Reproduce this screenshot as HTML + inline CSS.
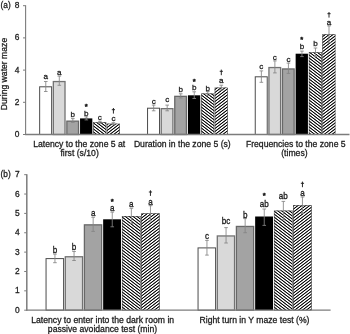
<!DOCTYPE html>
<html><head><meta charset="utf-8"><title>Figure</title>
<style>
html,body{margin:0;padding:0;background:#fff;}
body{width:350px;height:334px;overflow:hidden;font-family:"Liberation Sans",sans-serif;}
svg{display:block;will-change:transform;}
</style></head><body>
<svg width="350" height="334" viewBox="0 0 350 334" font-family="'Liberation Sans', sans-serif" fill="#1c1c1c"><style>text{stroke:#1c1c1c;stroke-width:0.28px;}</style>
<defs><linearGradient id="hA" gradientUnits="userSpaceOnUse" x1="0" y1="0" x2="-1.4502" y2="1.8834" spreadMethod="repeat"><stop offset="0.0000" stop-color="#000000"/><stop offset="0.0625" stop-color="#0b0b0b"/><stop offset="0.1250" stop-color="#2d2d2d"/><stop offset="0.1875" stop-color="#616161"/><stop offset="0.2500" stop-color="#9e9e9e"/><stop offset="0.3125" stop-color="#dbdbdb"/><stop offset="0.3750" stop-color="#ffffff"/><stop offset="0.4375" stop-color="#ffffff"/><stop offset="0.5000" stop-color="#ffffff"/><stop offset="0.5625" stop-color="#ffffff"/><stop offset="0.6250" stop-color="#ffffff"/><stop offset="0.6875" stop-color="#dbdbdb"/><stop offset="0.7500" stop-color="#9e9e9e"/><stop offset="0.8125" stop-color="#616161"/><stop offset="0.8750" stop-color="#2d2d2d"/><stop offset="0.9375" stop-color="#0b0b0b"/><stop offset="1.0000" stop-color="#000000"/></linearGradient><linearGradient id="hB" gradientUnits="userSpaceOnUse" x1="0" y1="0" x2="1.4502" y2="1.8834" spreadMethod="repeat"><stop offset="0.0000" stop-color="#000000"/><stop offset="0.0625" stop-color="#0b0b0b"/><stop offset="0.1250" stop-color="#2d2d2d"/><stop offset="0.1875" stop-color="#616161"/><stop offset="0.2500" stop-color="#9e9e9e"/><stop offset="0.3125" stop-color="#dbdbdb"/><stop offset="0.3750" stop-color="#ffffff"/><stop offset="0.4375" stop-color="#ffffff"/><stop offset="0.5000" stop-color="#ffffff"/><stop offset="0.5625" stop-color="#ffffff"/><stop offset="0.6250" stop-color="#ffffff"/><stop offset="0.6875" stop-color="#dbdbdb"/><stop offset="0.7500" stop-color="#9e9e9e"/><stop offset="0.8125" stop-color="#616161"/><stop offset="0.8750" stop-color="#2d2d2d"/><stop offset="0.9375" stop-color="#0b0b0b"/><stop offset="1.0000" stop-color="#000000"/></linearGradient></defs>
<rect width="350" height="334" fill="#fff"/>
<text x="0.5" y="7.9" font-size="8.3">(a)</text>
<path d="M23.00 134.50H25.60" stroke="#7c7c7c" stroke-width="1"/>
<text x="19.3" y="136.95" font-size="8.4" text-anchor="end">0</text>
<path d="M23.00 102.30H25.60" stroke="#7c7c7c" stroke-width="1"/>
<text x="19.3" y="104.75" font-size="8.4" text-anchor="end">2</text>
<path d="M23.00 70.10H25.60" stroke="#7c7c7c" stroke-width="1"/>
<text x="19.3" y="72.55" font-size="8.4" text-anchor="end">4</text>
<path d="M23.00 37.90H25.60" stroke="#7c7c7c" stroke-width="1"/>
<text x="19.3" y="40.35" font-size="8.4" text-anchor="end">6</text>
<path d="M23.00 5.70H25.60" stroke="#7c7c7c" stroke-width="1"/>
<text x="19.3" y="8.15" font-size="8.4" text-anchor="end">8</text>
<text transform="translate(7.25,74) rotate(-90)" font-size="8.65" text-anchor="middle">During water maze</text>
<rect x="39.65" y="86.80" width="11.98" height="47.70" fill="#ffffff" stroke="#4c4c4c" stroke-width="1.0"/>
<path d="M45.77 81.50V91.50M43.97 81.50h3.6M43.97 91.50h3.6" stroke="#848484" stroke-width="0.85" fill="none"/>
<text transform="translate(45.77,79.15) scale(1,1.0)" font-size="8.1" text-anchor="middle">a</text>
<rect x="53.33" y="81.55" width="11.68" height="52.95" fill="#d9d9d9" stroke="#727272" stroke-width="1.3"/>
<path d="M59.30 76.10V85.30M57.50 76.10h3.6M57.50 85.30h3.6" stroke="#848484" stroke-width="0.85" fill="none"/>
<text transform="translate(59.30,74.75) scale(1,1.0)" font-size="8.1" text-anchor="middle">a</text>
<rect x="66.86" y="121.15" width="11.68" height="13.35" fill="#a3a3a3" stroke="#686868" stroke-width="1.3"/>
<path d="M72.83 118.60V122.40M71.03 118.60h3.6M71.03 122.40h3.6" stroke="#848484" stroke-width="0.85" fill="none"/>
<text transform="translate(72.83,117.05) scale(1,1.0)" font-size="8.1" text-anchor="middle">b</text>
<rect x="80.04" y="118.40" width="12.28" height="16.10" fill="#000"/>
<path d="M86.36 116.90V119.90M84.56 116.90h3.6M84.56 119.90h3.6" stroke="#848484" stroke-width="0.85" fill="none"/>
<text transform="translate(86.36,115.75) scale(1,1.0)" font-size="8.1" text-anchor="middle">b</text>
<text x="86.26" y="109.10" font-size="7.6" style="stroke-width:0.55px" text-anchor="middle">*</text>
<rect x="93.27" y="122.30" width="12.98" height="12.20" fill="url(#hA)"/>
<rect x="93.57" y="122.60" width="12.38" height="11.90" fill="none" stroke="#4a4a4a" stroke-width="0.6"/>
<path d="M99.89 121.30V123.30M98.09 121.30h3.6M98.09 123.30h3.6" stroke="#848484" stroke-width="0.85" fill="none"/>
<text transform="translate(99.89,119.65) scale(1,1.0)" font-size="8.1" text-anchor="middle">c</text>
<rect x="106.80" y="123.70" width="12.98" height="10.80" fill="url(#hB)"/>
<rect x="107.10" y="124.00" width="12.38" height="10.50" fill="none" stroke="#4a4a4a" stroke-width="0.6"/>
<path d="M113.41 122.70V124.70M111.61 122.70h3.6M111.61 124.70h3.6" stroke="#848484" stroke-width="0.85" fill="none"/>
<text transform="translate(113.41,121.45) scale(1,1.0)" font-size="8.1" text-anchor="middle">c</text>
<path d="M113.41 108.00v5.6M111.81 109.70h3.2" stroke="#1c1c1c" stroke-width="0.95" fill="none"/>
<rect x="147.55" y="108.20" width="11.98" height="26.30" fill="#ffffff" stroke="#4c4c4c" stroke-width="1.0"/>
<path d="M153.66 105.10V110.80M151.86 105.10h3.6M151.86 110.80h3.6" stroke="#848484" stroke-width="0.85" fill="none"/>
<text transform="translate(153.66,103.55) scale(1,1.0)" font-size="8.1" text-anchor="middle">c</text>
<rect x="161.23" y="108.65" width="11.68" height="25.85" fill="#d9d9d9" stroke="#727272" stroke-width="1.3"/>
<path d="M167.19 105.10V110.80M165.39 105.10h3.6M165.39 110.80h3.6" stroke="#848484" stroke-width="0.85" fill="none"/>
<text transform="translate(167.19,102.45) scale(1,1.0)" font-size="8.1" text-anchor="middle">c</text>
<rect x="174.76" y="96.35" width="11.68" height="38.15" fill="#a3a3a3" stroke="#686868" stroke-width="1.3"/>
<path d="M180.72 93.80V98.00M178.92 93.80h3.6M178.92 98.00h3.6" stroke="#848484" stroke-width="0.85" fill="none"/>
<text transform="translate(180.72,91.85) scale(1,1.0)" font-size="8.1" text-anchor="middle">b</text>
<rect x="187.94" y="95.30" width="12.28" height="39.20" fill="#000"/>
<path d="M194.25 91.80V98.50M192.45 91.80h3.6M192.45 98.50h3.6" stroke="#848484" stroke-width="0.85" fill="none"/>
<text transform="translate(194.25,90.45) scale(1,1.0)" font-size="8.1" text-anchor="middle">b</text>
<text x="194.16" y="83.80" font-size="7.6" style="stroke-width:0.55px" text-anchor="middle">*</text>
<rect x="201.17" y="93.50" width="12.98" height="41.00" fill="url(#hA)"/>
<rect x="201.47" y="93.80" width="12.38" height="40.70" fill="none" stroke="#4a4a4a" stroke-width="0.6"/>
<path d="M207.78 91.60V95.40M205.98 91.60h3.6M205.98 95.40h3.6" stroke="#848484" stroke-width="0.85" fill="none"/>
<text transform="translate(207.78,90.65) scale(1,1.0)" font-size="8.1" text-anchor="middle">b</text>
<rect x="214.70" y="87.60" width="12.98" height="46.90" fill="url(#hB)"/>
<rect x="215.00" y="87.90" width="12.38" height="46.60" fill="none" stroke="#4a4a4a" stroke-width="0.6"/>
<path d="M221.31 85.20V90.00M219.51 85.20h3.6M219.51 90.00h3.6" stroke="#848484" stroke-width="0.85" fill="none"/>
<text transform="translate(221.31,82.85) scale(1,1.0)" font-size="8.1" text-anchor="middle">a</text>
<path d="M221.31 69.60v5.6M219.72 71.30h3.2" stroke="#1c1c1c" stroke-width="0.95" fill="none"/>
<rect x="255.25" y="76.80" width="11.98" height="57.70" fill="#ffffff" stroke="#4c4c4c" stroke-width="1.0"/>
<path d="M261.37 70.90V82.30M259.56 70.90h3.6M259.56 82.30h3.6" stroke="#848484" stroke-width="0.85" fill="none"/>
<text transform="translate(261.37,68.65) scale(1,1.0)" font-size="8.1" text-anchor="middle">c</text>
<rect x="268.93" y="67.55" width="11.68" height="66.95" fill="#d9d9d9" stroke="#727272" stroke-width="1.3"/>
<path d="M274.89 60.90V72.90M273.09 60.90h3.6M273.09 72.90h3.6" stroke="#848484" stroke-width="0.85" fill="none"/>
<text transform="translate(274.89,59.75) scale(1,1.0)" font-size="8.1" text-anchor="middle">c</text>
<rect x="282.46" y="68.95" width="11.68" height="65.55" fill="#a3a3a3" stroke="#686868" stroke-width="1.3"/>
<path d="M288.42 63.10V73.40M286.62 63.10h3.6M286.62 73.40h3.6" stroke="#848484" stroke-width="0.85" fill="none"/>
<text transform="translate(288.42,61.85) scale(1,1.0)" font-size="8.1" text-anchor="middle">c</text>
<rect x="295.64" y="53.70" width="12.28" height="80.80" fill="#000"/>
<path d="M301.95 51.10V56.60M300.15 51.10h3.6M300.15 56.60h3.6" stroke="#848484" stroke-width="0.85" fill="none"/>
<text transform="translate(301.95,48.95) scale(1,1.0)" font-size="8.1" text-anchor="middle">b</text>
<text x="301.85" y="41.70" font-size="7.6" style="stroke-width:0.55px" text-anchor="middle">*</text>
<rect x="308.87" y="52.30" width="12.98" height="82.20" fill="url(#hA)"/>
<rect x="309.17" y="52.60" width="12.38" height="81.90" fill="none" stroke="#4a4a4a" stroke-width="0.6"/>
<path d="M315.48 48.00V56.60M313.68 48.00h3.6M313.68 56.60h3.6" stroke="#848484" stroke-width="0.85" fill="none"/>
<text transform="translate(315.48,46.15) scale(1,1.0)" font-size="8.1" text-anchor="middle">b</text>
<rect x="322.40" y="34.30" width="12.98" height="100.20" fill="url(#hB)"/>
<rect x="322.70" y="34.60" width="12.38" height="99.90" fill="none" stroke="#4a4a4a" stroke-width="0.6"/>
<path d="M329.01 25.90V42.70M327.21 25.90h3.6M327.21 42.70h3.6" stroke="#848484" stroke-width="0.85" fill="none"/>
<text transform="translate(329.01,24.95) scale(1,1.0)" font-size="8.1" text-anchor="middle">a</text>
<path d="M329.01 12.00v5.6M327.41 13.70h3.2" stroke="#1c1c1c" stroke-width="0.95" fill="none"/>
<path d="M25.60 5.2V135.10" stroke="#7c7c7c" stroke-width="1.1"/>
<path d="M25.10 134.50H349.5" stroke="#7c7c7c" stroke-width="1.3"/>
<text x="79.20" y="147.10" font-size="8.65" text-anchor="middle">Latency to the zone 5 at</text>
<text x="79.60" y="156.00" font-size="8.65" text-anchor="middle">first (s/10)</text>
<text x="182.30" y="147.10" font-size="8.65" text-anchor="middle">Duration in the zone 5 (s)</text>
<text x="295.80" y="147.10" font-size="8.65" text-anchor="middle">Frequencies to the zone 5</text>
<text x="294.40" y="156.00" font-size="8.65" text-anchor="middle">(times)</text>
<text x="0.5" y="176.5" font-size="8.3">(b)</text>
<path d="M24.20 310.20H26.80" stroke="#7c7c7c" stroke-width="1"/>
<text x="19.6" y="312.70" font-size="8.4" text-anchor="end">0</text>
<path d="M24.20 290.84H26.80" stroke="#7c7c7c" stroke-width="1"/>
<text x="19.6" y="293.34" font-size="8.4" text-anchor="end">1</text>
<path d="M24.20 271.48H26.80" stroke="#7c7c7c" stroke-width="1"/>
<text x="19.6" y="273.98" font-size="8.4" text-anchor="end">2</text>
<path d="M24.20 252.12H26.80" stroke="#7c7c7c" stroke-width="1"/>
<text x="19.6" y="254.62" font-size="8.4" text-anchor="end">3</text>
<path d="M24.20 232.76H26.80" stroke="#7c7c7c" stroke-width="1"/>
<text x="19.6" y="235.26" font-size="8.4" text-anchor="end">4</text>
<path d="M24.20 213.40H26.80" stroke="#7c7c7c" stroke-width="1"/>
<text x="19.6" y="215.90" font-size="8.4" text-anchor="end">5</text>
<path d="M24.20 194.04H26.80" stroke="#7c7c7c" stroke-width="1"/>
<text x="19.6" y="196.54" font-size="8.4" text-anchor="end">6</text>
<path d="M24.20 174.68H26.80" stroke="#7c7c7c" stroke-width="1"/>
<text x="19.6" y="177.18" font-size="8.4" text-anchor="end">7</text>
<rect x="46.05" y="258.60" width="17.55" height="51.60" fill="#ffffff" stroke="#4c4c4c" stroke-width="1.0"/>
<path d="M54.95 254.10V262.70M53.15 254.10h3.6M53.15 262.70h3.6" stroke="#848484" stroke-width="0.85" fill="none"/>
<text transform="translate(54.95,252.75) scale(1,1.22)" font-size="8.1" text-anchor="middle">b</text>
<rect x="65.30" y="256.75" width="17.25" height="53.45" fill="#d9d9d9" stroke="#727272" stroke-width="1.3"/>
<path d="M74.05 251.50V260.50M72.25 251.50h3.6M72.25 260.50h3.6" stroke="#848484" stroke-width="0.85" fill="none"/>
<text transform="translate(74.05,250.25) scale(1,1.22)" font-size="8.1" text-anchor="middle">b</text>
<rect x="84.40" y="224.85" width="17.25" height="85.35" fill="#a3a3a3" stroke="#686868" stroke-width="1.3"/>
<path d="M93.15 217.30V231.40M91.35 217.30h3.6M91.35 231.40h3.6" stroke="#848484" stroke-width="0.85" fill="none"/>
<text transform="translate(93.15,215.75) scale(1,1.22)" font-size="8.1" text-anchor="middle">a</text>
<rect x="103.15" y="219.30" width="17.85" height="90.90" fill="#000"/>
<path d="M112.25 212.10V226.80M110.45 212.10h3.6M110.45 226.80h3.6" stroke="#848484" stroke-width="0.85" fill="none"/>
<text transform="translate(112.25,210.65) scale(1,1.22)" font-size="8.1" text-anchor="middle">a</text>
<text x="112.15" y="203.50" font-size="7.6" style="stroke-width:0.55px" text-anchor="middle">*</text>
<rect x="121.95" y="216.00" width="18.55" height="94.20" fill="url(#hA)"/>
<rect x="122.25" y="216.30" width="17.95" height="93.90" fill="none" stroke="#4a4a4a" stroke-width="0.6"/>
<path d="M131.35 208.30V223.70M129.55 208.30h3.6M129.55 223.70h3.6" stroke="#848484" stroke-width="0.85" fill="none"/>
<text transform="translate(131.35,206.75) scale(1,1.22)" font-size="8.1" text-anchor="middle">a</text>
<rect x="141.05" y="213.40" width="18.55" height="96.80" fill="url(#hB)"/>
<rect x="141.35" y="213.70" width="17.95" height="96.50" fill="none" stroke="#4a4a4a" stroke-width="0.6"/>
<path d="M150.45 205.70V221.00M148.65 205.70h3.6M148.65 221.00h3.6" stroke="#848484" stroke-width="0.85" fill="none"/>
<text transform="translate(150.45,204.75) scale(1,1.22)" font-size="8.1" text-anchor="middle">a</text>
<path d="M150.45 190.30v5.6M148.85 192.00h3.2" stroke="#1c1c1c" stroke-width="0.95" fill="none"/>
<rect x="198.05" y="247.90" width="17.55" height="62.30" fill="#ffffff" stroke="#4c4c4c" stroke-width="1.0"/>
<path d="M206.95 240.40V255.10M205.15 240.40h3.6M205.15 255.10h3.6" stroke="#848484" stroke-width="0.85" fill="none"/>
<text transform="translate(206.95,238.85) scale(1,1.22)" font-size="8.1" text-anchor="middle">c</text>
<rect x="217.30" y="235.95" width="17.25" height="74.25" fill="#d9d9d9" stroke="#727272" stroke-width="1.3"/>
<path d="M226.05 227.60V243.00M224.25 227.60h3.6M224.25 243.00h3.6" stroke="#848484" stroke-width="0.85" fill="none"/>
<text transform="translate(226.05,224.25) scale(1,1.22)" font-size="8.1" text-anchor="middle">bc</text>
<rect x="236.40" y="226.45" width="17.25" height="83.75" fill="#a3a3a3" stroke="#686868" stroke-width="1.3"/>
<path d="M245.15 218.60V232.70M243.35 218.60h3.6M243.35 232.70h3.6" stroke="#848484" stroke-width="0.85" fill="none"/>
<text transform="translate(245.15,217.55) scale(1,1.22)" font-size="8.1" text-anchor="middle">b</text>
<rect x="255.15" y="216.50" width="17.85" height="93.70" fill="#000"/>
<path d="M264.25 209.00V225.40M262.45 209.00h3.6M262.45 225.40h3.6" stroke="#848484" stroke-width="0.85" fill="none"/>
<text transform="translate(264.25,206.75) scale(1,1.22)" font-size="8.1" text-anchor="middle">ab</text>
<text x="264.15" y="198.30" font-size="7.6" style="stroke-width:0.55px" text-anchor="middle">*</text>
<rect x="273.95" y="210.60" width="18.55" height="99.60" fill="url(#hA)"/>
<rect x="274.25" y="210.90" width="17.95" height="99.30" fill="none" stroke="#4a4a4a" stroke-width="0.6"/>
<path d="M283.35 201.40V219.80M281.55 201.40h3.6M281.55 219.80h3.6" stroke="#848484" stroke-width="0.85" fill="none"/>
<text transform="translate(283.35,199.35) scale(1,1.22)" font-size="8.1" text-anchor="middle">ab</text>
<rect x="293.05" y="205.20" width="18.55" height="105.00" fill="url(#hB)"/>
<rect x="293.35" y="205.50" width="17.95" height="104.70" fill="none" stroke="#4a4a4a" stroke-width="0.6"/>
<path d="M302.45 197.00V213.40M300.65 197.00h3.6M300.65 213.40h3.6" stroke="#848484" stroke-width="0.85" fill="none"/>
<text transform="translate(302.45,195.95) scale(1,1.22)" font-size="8.1" text-anchor="middle">a</text>
<path d="M302.45 181.60v5.6M300.85 183.30h3.2" stroke="#1c1c1c" stroke-width="0.95" fill="none"/>
<path d="M26.80 174.2V310.80" stroke="#7c7c7c" stroke-width="1.5"/>
<path d="M26.30 310.20H330.6" stroke="#7c7c7c" stroke-width="1.3"/>
<text x="102.70" y="323.00" font-size="8.65" text-anchor="middle">Latency to enter into the dark room in</text>
<text x="102.50" y="332.00" font-size="8.65" text-anchor="middle">passive avoidance test (min)</text>
<text x="254.50" y="323.00" font-size="8.65" text-anchor="middle">Right turn in Y maze test (%)</text>
</svg>
</body></html>
